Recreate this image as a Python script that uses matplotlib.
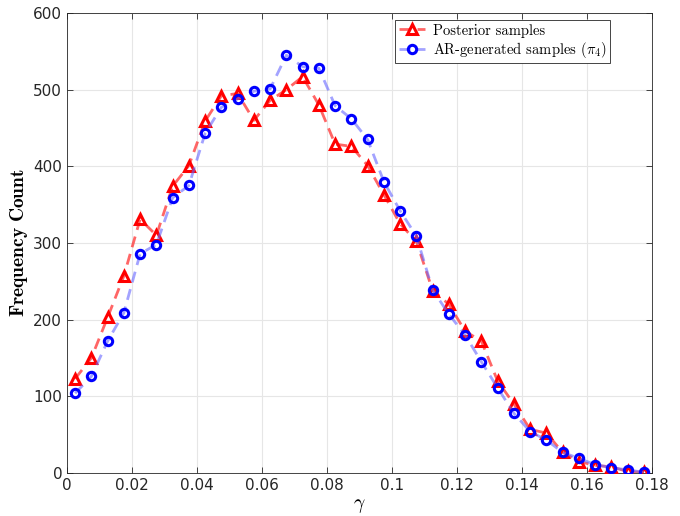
import numpy as np
import matplotlib
matplotlib.use("Agg")
import matplotlib.pyplot as plt

plt.rcParams['mathtext.fontset'] = 'cm'

# bin centres of gamma
gamma = np.arange(0.0025, 0.18, 0.005)

posterior = [123, 150, 203, 257, 331, 310, 374, 401, 459, 492, 495, 460,
             486, 500, 517, 480, 429, 426, 401, 363, 325, 302, 238, 220,
             185, 172, 120, 90, 57, 52, 27, 15, 10, 8, 2, 1]
ar_samples = [104, 126, 172, 209, 286, 298, 359, 375, 443, 477, 488, 498,
              501, 545, 530, 528, 479, 462, 435, 380, 342, 309, 239, 207,
              180, 145, 111, 78, 54, 43, 27, 19, 11, 7, 4, 1]

xticks = [0, 0.02, 0.04, 0.06, 0.08, 0.1, 0.12, 0.14, 0.16, 0.18]
xticklabels = ['0', '0.02', '0.04', '0.06', '0.08', '0.1', '0.12', '0.14', '0.16', '0.18']
yticks = [0, 100, 200, 300, 400, 500, 600]

fig = plt.figure(figsize=(6.8, 5.16), dpi=100)
ax = fig.add_axes([67/680, 43/516, 585/680, 460/516])

ax.plot(gamma, posterior, linestyle='--', linewidth=2, dashes=(4, 2.5),
        color=(1, 0.2, 0.2, 0.75), marker='^', markersize=7,
        markeredgewidth=2.2, markeredgecolor='red', markerfacecolor='none',
        label='Posterior samples', zorder=3)
ax.plot(gamma, ar_samples, linestyle='--', linewidth=2, dashes=(4, 2.5),
        color=(0.4, 0.4, 1, 0.6), marker='o', markersize=6,
        markeredgewidth=2.2, markeredgecolor='blue', markerfacecolor='none',
        label=r'AR-generated samples ($\pi_4$)', zorder=4)

ax.set_xlim(0, 0.18)
ax.set_ylim(0, 600)
ax.set_xticks(xticks)
ax.set_xticklabels(xticklabels)
ax.set_yticks(yticks)
ax.tick_params(direction='in', top=True, right=True, length=4, width=0.6,
               labelsize=11, colors='#262626')
ax.grid(True, color='#e6e6e6', linewidth=0.8)
ax.set_axisbelow(True)
for s in ax.spines.values():
    s.set_color('#262626')
    s.set_linewidth(0.6)

ax.set_xlabel(r'$\gamma$', fontsize=14, labelpad=2)
ax.set_ylabel(r'$\mathbf{Frequency\ Count}$', fontsize=14, labelpad=2)

leg = ax.legend(loc='upper right', bbox_to_anchor=(0.928, 0.985),
                borderaxespad=0,
                prop={'family': 'cmr10', 'size': 10.5},
                fancybox=False, edgecolor='#262626', framealpha=1,
                borderpad=0.25, labelspacing=0.15, handlelength=1.8,
                handletextpad=0.5)
leg.get_frame().set_linewidth(0.6)

fig.savefig('out.png', dpi=100)
